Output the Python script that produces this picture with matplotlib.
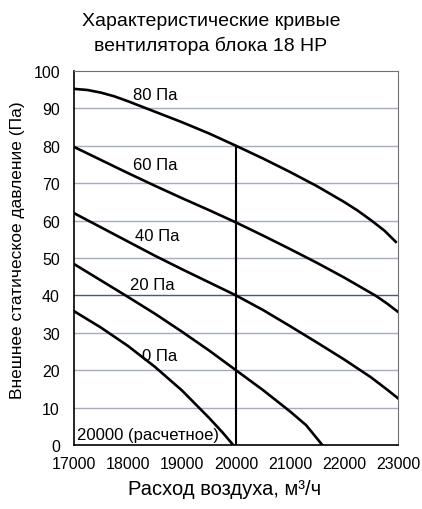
import matplotlib.pyplot as plt
import numpy as np

plt.rcParams['font.family'] = ['Liberation Sans', 'DejaVu Sans']

# расход воздуха (м3/ч) и давление (Па) по кривым
x_80 = [17000, 17250, 17500, 17750, 18000, 18250, 18500, 19000, 19500, 20000, 20500, 21000, 21500, 22000, 22250, 22500, 22750, 22960]
y_80 = [95.2, 94.9, 94.2, 93.2, 91.9, 90.5, 89.1, 86.3, 83.3, 80.0, 76.6, 73.0, 69.2, 65.0, 62.7, 60.1, 57.3, 54.3]

x_60 = [17000, 17500, 18000, 18500, 19000, 19500, 20000, 20500, 21000, 21500, 22000, 22300, 22600, 22800, 23000]
y_60 = [79.7, 76.2, 72.7, 69.3, 66.0, 62.8, 59.5, 56.0, 52.4, 48.7, 44.8, 42.3, 39.8, 37.8, 35.6]

x_40 = [17000, 17500, 18000, 18500, 19000, 19500, 20000, 20500, 21000, 21500, 22000, 22500, 22800, 23000]
y_40 = [62.0, 58.2, 54.4, 50.6, 47.0, 43.5, 40.0, 36.1, 31.8, 27.4, 22.9, 18.1, 14.8, 12.5]

x_20 = [17000, 17500, 18000, 18500, 19000, 19500, 20000, 20500, 21000, 21300, 21600]
y_20 = [48.4, 44.0, 39.6, 35.1, 30.3, 25.3, 20.0, 14.7, 9.0, 5.3, 0.0]

x_0 = [17000, 17500, 18000, 18500, 19000, 19500, 19750, 19950]
y_0 = [35.8, 31.4, 26.5, 20.9, 14.6, 7.3, 3.4, 0.0]

curves = [(x_80, y_80, '80 Па', 18500, 93.6),
          (x_60, y_60, '60 Па', 18500, 74.9),
          (x_40, y_40, '40 Па', 18540, 56.1),
          (x_20, y_20, '20 Па', 18460, 42.8),
          (x_0, y_0, '0 Па', 18590, 24.0)]

rasch = 20000

fig = plt.figure(figsize=(4.22, 5.10), dpi=100)
ax = fig.add_axes([0.175, 0.1255, 0.768, 0.7335])

for yy in range(10, 100, 10):
    cor = '#4d5a6e' if yy == 40 else '#a3adbc'
    ax.axhline(yy, color=cor, lw=1.0, zorder=1)

for xs, ys, nome, tx, ty in curves:
    ax.plot(xs, ys, color='black', lw=1.9, zorder=3, solid_joinstyle='round')
    ax.text(tx, ty, nome, fontsize=12, ha='center', va='center', zorder=4)

ax.plot([rasch, rasch], [0, 80], color='black', lw=1.5, zorder=3)
ax.text(17060, 2.8, '20000 (расчетное)', fontsize=12, ha='left', va='center', zorder=4)

ax.set_xlim(17000, 23000)
ax.set_ylim(0, 100)
ax.set_xticks(np.arange(17000, 23001, 1000))
ax.set_yticks(np.arange(0, 101, 10))
ax.tick_params(length=0, labelsize=11.5)
ax.tick_params(axis='y', pad=10)
ax.tick_params(axis='x', pad=8)
for s in ['top', 'right']:
    ax.spines[s].set_color('#707070')
for s in ['left', 'bottom']:
    ax.spines[s].set_color('black')
    ax.spines[s].set_linewidth(1.2)

fig.text(0.5, 1 - 22 / 510, 'Характеристические кривые', fontsize=14, ha='center', va='center')
fig.text(0.5, 1 - 46 / 510, 'вентилятора блока 18 HP', fontsize=14, ha='center', va='center')
fig.text(225 / 422, 1 - 490 / 510, 'Расход воздуха, м³/ч', fontsize=14.5, ha='center', va='center')
fig.text(18 / 422, 1 - 250 / 510, 'Внешнее статическое давление (Па)', fontsize=12.5,
         ha='center', va='center', rotation=90)

fig.savefig('out.png', dpi=100)
